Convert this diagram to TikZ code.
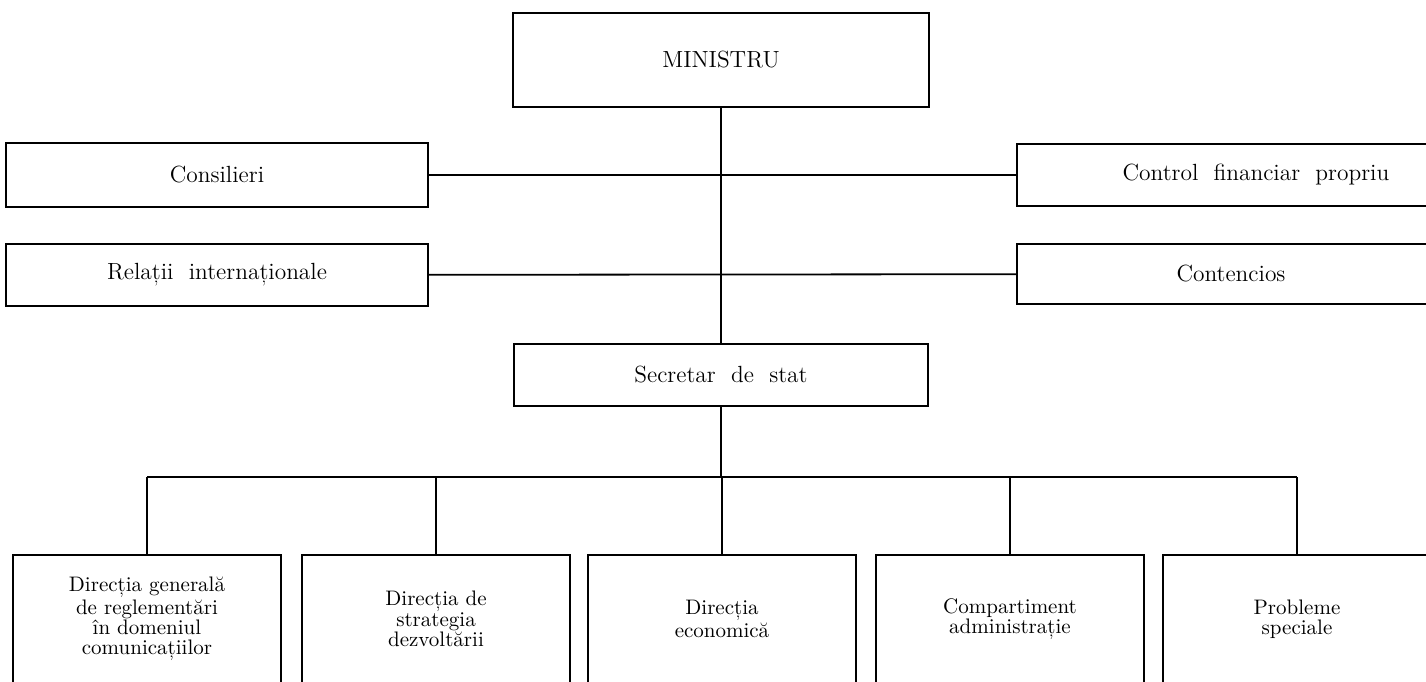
\documentclass[tikz,border=0pt]{standalone}
\usepackage{fontspec}
\usepackage{tikz}
\usetikzlibrary{positioning}

\begin{document}
\begin{tikzpicture}[x=0.5pt,y=-0.5pt,
		box/.style={draw,rectangle,line width=1.1pt,align=center,inner sep=0pt},
		office/.style={box,font=\fontsize{11.7}{13}\selectfont},
		dept/.style={box,minimum width=134pt,minimum height=64pt,font=\fontsize{10.5}{10.2}\selectfont},
		every edge/.style={draw,line width=0.9pt}]
				\useasboundingbox (0,0) rectangle (1426,681);
				\clip (0,0) rectangle (1426,681);
				\node[office,minimum width=208pt,minimum height=47pt] (min) at (721,60) {MINISTRU};
				\node[office,minimum width=211pt,minimum height=32pt] (cons) at (217,175) {Consilieri};
				\node[office,minimum width=211pt,minimum height=31pt] (rel) at (217,275) {Relații\ \ internaționale};
				\node[office,minimum width=214pt,minimum height=31pt] (ctrl) at (1231,175) {\hspace*{25pt}Control\ \ financiar\ \ propriu};
				\node[office,minimum width=214pt,minimum height=30pt] (cont) at (1231,274) {Contencios};
				\node[office,minimum width=207pt,minimum height=31pt] (sec) at (721,375) {Secretar\ \ de\ \ stat};
				\node[dept] (d1) at (147,619) {Direcția generală\\de reglementări\\în domeniul\\comunicațiilor};
				\node[dept] (d2) at (436,619) {Direcția de\\strategia\\dezvoltării};
				\node[dept] (d3) at (722,619) {Direcția\\economică};
				\node[dept] (d4) at (1010,619) {Compartiment\\administrație};
				\node[dept] (d5) at (1297,619) {Probleme\\speciale};
				\coordinate (bus) at (0,477);
				\draw[line width=0.9pt] (d1.north |- bus) -- (d5.north |- bus);
				\draw (min) edge (sec)
					  (cons) edge (ctrl)
					  (rel) edge (cont)
					  (sec) edge (sec |- bus)
					  (d1) edge (d1 |- bus)
					  (d2) edge (d2 |- bus)
					  (d3) edge (d3 |- bus)
					  (d4) edge (d4 |- bus)
					  (d5) edge (d5 |- bus);
			\end{tikzpicture}
\end{document}
